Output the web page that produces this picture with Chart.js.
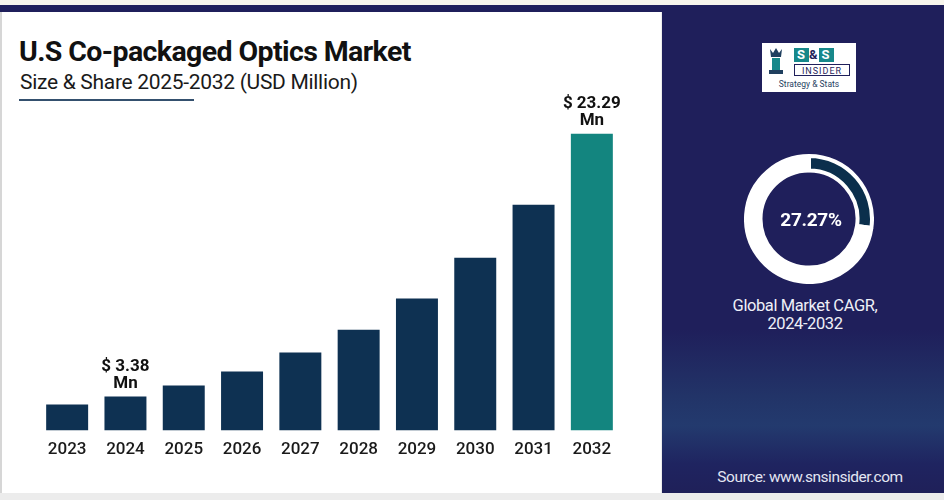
<!DOCTYPE html>
<html>
<head>
<meta charset="utf-8">
<script src="https://cdn.jsdelivr.net/npm/chart.js@4.4.1/dist/chart.umd.min.js"></script>
<style>
  html, body { margin: 0; padding: 0; }
  body { width: 944px; height: 500px; position: relative; overflow: hidden; background: #ececec; font-family: Roboto, 'Liberation Sans', sans-serif; }
  #topstrip { position: absolute; left: 0; top: 0; width: 944px; height: 5px; background: #f7f5ec; }
  #topline { position: absolute; left: 0; top: 5px; width: 944px; height: 7px; background: #1f1f5b; }
  #left { position: absolute; left: 0; top: 12px; width: 661px; height: 481px; background: #fff; border-left: 2px solid #d6d6d6; box-sizing: border-box; }
  #right { position: absolute; left: 662px; top: 12px; width: 282px; height: 481px;
    background: linear-gradient(180deg, #1f1f5b 0%, #1f1f5b 66%, #223468 80%, #233a6e 86%, #1f2460 94%, #1f2059 100%); }
  .txt { position: absolute; white-space: nowrap; }
  #title { left: 19px; top: 35px; font-size: 28.5px; font-weight: 700; color: #111; letter-spacing: -0.6px; }
  #sub { left: 20px; top: 70px; font-size: 21px; color: #1a1a1a; letter-spacing: -0.3px; }
  #uline { position: absolute; left: 19px; top: 99px; width: 175px; height: 2px; background: #34506e; }
  #barwrap { position: absolute; left: 0; top: 12px; width: 662px; height: 457px; }
  #donutwrap { position: absolute; left: 744px; top: 154px; width: 130px; height: 130px; }
  #pct { left: 751px; top: 208px; width: 120px; text-align: center; font-size: 19px; font-weight: 700; color: #fff; letter-spacing: -0.3px; }
  #cagr { left: 705px; top: 297px; width: 200px; text-align: center; font-size: 16.5px; line-height: 18px; color: #eef0f7; letter-spacing: -0.4px; }
  #source { left: 690px; top: 468px; width: 240px; text-align: center; font-size: 15.5px; color: #e3e6f2; letter-spacing: -0.5px; }
  #logo { position: absolute; left: 762px; top: 43px; width: 94px; height: 49px; background: #fff; box-sizing: border-box; }
  #logo .icon { position: absolute; left: 4px; top: 4px; width: 20px; height: 32px; }
  #logo .ss { position: absolute; left: 32px; top: 4px; font-size: 13px; font-weight: 700; color: #1f1f5b; letter-spacing: 1px; }
  #logo .ss span { display: inline-block; background: #17888a; color: #fff; padding: 0 3px; line-height: 14px; }
  #logo .ins { position: absolute; left: 32px; top: 21px; width: 56px; height: 12px; border: 1px solid #1f1f5b; font-size: 9px; line-height: 12px; text-align: center; color: #1f1f5b; letter-spacing: 1px; box-sizing: border-box; }
  #logo .st { position: absolute; left: 3px; top: 36px; width: 88px; text-align: center; font-size: 8.5px; color: #1f3f5f; }
</style>
</head>
<body>
<div id="topstrip"></div>
<div id="topline"></div>
<div id="left"></div>
<div id="right"></div>
<div class="txt" id="title">U.S Co-packaged Optics Market</div>
<div class="txt" id="sub">Size &amp; Share 2025-2032 (USD Million)</div>
<div id="uline"></div>
<div id="barwrap"><canvas id="bars"></canvas></div>

<div id="logo">
  <svg class="icon" viewBox="0 0 20 32">
    <path d="M4 2 L7 6 L10 1 L13 6 L16 2 L15 10 L5 10 Z" fill="#1f3f5f"/>
    <rect x="6" y="11" width="8" height="12" fill="#17888a"/>
    <rect x="3" y="23" width="14" height="4" fill="#1f3f5f"/>
  </svg>
  <div class="ss"><span>S</span>&amp;<span>S</span></div>
  <div class="ins">INSIDER</div>
  <div class="st">Strategy &amp; Stats</div>
</div>

<div id="donutwrap"><canvas id="donut"></canvas></div>
<div class="txt" id="pct">27.27%</div>
<div class="txt" id="cagr">Global Market CAGR,<br>2024-2032</div>
<div class="txt" id="source">Source: www.snsinsider.com</div>

<script>
// chart values
const years = ['2023', '2024', '2025', '2026', '2027', '2028', '2029', '2030', '2031', '2032'];
const marketSize = [2.77, 3.38, 4.21, 5.27, 6.71, 8.45, 10.8, 13.9, 17.91, 23.29];
const valueLabels = ['', '$ 3.38|Mn', '', '', '', '', '', '', '', '$ 23.29|Mn'];
const cagrShare = [27.27, 72.73];

// the original's bars don't start at zero, they start around 0.8
const axisBase = 0.8;

const navy = '#0e3152';
const teal = '#13857f';
const barColors = years.map((y, i) => i === years.length - 1 ? teal : navy);

// draws the two-line value labels above the marked bars
const topLabels = {
  id: 'topLabels',
  afterDatasetsDraw(chart) {
    const ctx = chart.ctx;
    const meta = chart.getDatasetMeta(0);
    ctx.save();
    ctx.fillStyle = '#111';
    ctx.font = 'bold 17px Roboto, sans-serif';
    ctx.textAlign = 'center';
    ctx.textBaseline = 'middle';
    meta.data.forEach((bar, i) => {
      if (!valueLabels[i]) return;
      const lines = valueLabels[i].split('|');
      ctx.fillText(lines[0], bar.x, bar.y - 30);
      ctx.fillText(lines[1], bar.x, bar.y - 13);
    });
    ctx.restore();
  }
};

new Chart(document.getElementById('bars'), {
  type: 'bar',
  data: {
    labels: years,
    datasets: [{
      data: marketSize,
      base: axisBase,
      backgroundColor: barColors,
      barPercentage: 0.8,
      categoryPercentage: 0.9
    }]
  },
  options: {
    responsive: true,
    maintainAspectRatio: false,
    animation: false,
    layout: { padding: { left: 38, right: 41, top: 53, bottom: 0 } },
    plugins: { legend: { display: false }, tooltip: { enabled: false } },
    scales: {
      x: {
        grid: { display: false, drawTicks: false },
        border: { display: false },
        ticks: { color: '#1a1a1a', padding: 9, font: { family: 'Roboto', size: 17, weight: '500' } }
      },
      y: { display: false, min: axisBase, max: 28.5 }
    }
  },
  plugins: [topLabels]
});

new Chart(document.getElementById('donut'), {
  type: 'doughnut',
  data: {
    labels: ['CAGR', ''],
    datasets: [{
      data: cagrShare,
      backgroundColor: ['#0b2f4c', '#ffffff'],
      borderColor: '#ffffff',
      borderWidth: 4
    }]
  },
  options: {
    responsive: true,
    maintainAspectRatio: false,
    animation: false,
    cutout: '77%',
    plugins: { legend: { display: false }, tooltip: { enabled: false } }
  }
});
</script>
</body>
</html>
